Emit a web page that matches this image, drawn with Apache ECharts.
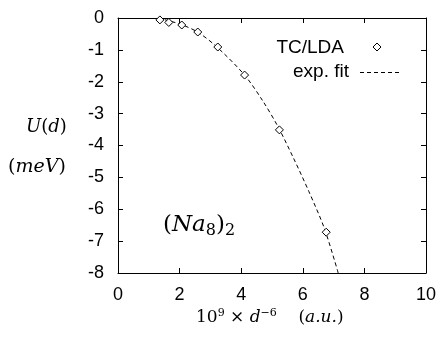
<!DOCTYPE html>
<html><head><meta charset="utf-8">
<script src="https://cdn.jsdelivr.net/npm/echarts@6/dist/echarts.min.js"></script>
<style>html,body{margin:0;padding:0;background:#fff}#c{width:440px;height:337px}</style>
</head><body><div id="c"></div>
<script>
const tcX = [1.36, 1.65, 2.07, 2.59, 3.24, 4.11, 5.24, 6.76];
const tcU = [-0.06, -0.14, -0.22, -0.44, -0.91, -1.79, -3.51, -6.72];
const fitX = [1.3, 1.7, 2.1, 2.6, 3.2, 4.1, 4.7, 5.2, 5.7, 6.2, 6.7, 7.15];
const fitU = [0, -0.1, -0.22, -0.45, -0.9, -1.78, -2.6, -3.42, -4.4, -5.45, -6.6, -8.0];
const xTicks = [0, 2, 4, 6, 8, 10];
const yTicks = [0, -1, -2, -3, -4, -5, -6, -7, -8];

const chart = echarts.init(document.getElementById('c'));
const lab = {fontFamily: 'Liberation Sans', fontSize: 18, color: '#000'};
const axLine = {show: true, onZero: false, lineStyle: {color: '#000', width: 1}};
const tick = {show: true, inside: true, length: 5, lineStyle: {color: '#000'}};
const SERIF = 'DejaVu Serif';
chart.setOption({
  animation: false,
  grid: {left: 118, right: 14, top: 18, bottom: 64},
  xAxis: [
    {type: 'value', min: xTicks[0], max: xTicks[xTicks.length-1], interval: 2,
     axisLine: axLine, axisTick: tick,
     axisLabel: Object.assign({margin: 13}, lab), splitLine: {show: false}},
    {type: 'value', position: 'top', min: xTicks[0], max: xTicks[xTicks.length-1], interval: 2,
     axisLine: axLine, axisTick: tick,
     axisLabel: {show: false}, splitLine: {show: false}}
  ],
  yAxis: [
    {type: 'value', min: yTicks[yTicks.length-1], max: yTicks[0], interval: 1,
     axisLine: axLine, axisTick: tick,
     axisLabel: Object.assign({margin: 14}, lab), splitLine: {show: false}},
    {type: 'value', position: 'right', min: yTicks[yTicks.length-1], max: yTicks[0], interval: 1,
     axisLine: axLine, axisTick: tick,
     axisLabel: {show: false}, splitLine: {show: false}}
  ],
  series: [
    {name: 'exp. fit', type: 'line', showSymbol: false, symbol: 'none', smooth: 0.3,
     data: fitX.map((x, i) => [x, fitU[i]]),
     lineStyle: {color: '#000', width: 1, type: [4, 3]}, itemStyle: {color: '#000'}, z: 2},
    {name: 'TC/LDA', type: 'scatter', symbol: 'diamond', symbolSize: 8,
     data: tcX.map((x, i) => [x, tcU[i]]),
     itemStyle: {color: '#fff', borderColor: '#000', borderWidth: 1, opacity: 1}, z: 3}
  ],
  graphic: [
    // legend
    {type: 'text', right: 96, top: 38, style: {text: 'TC/LDA', fontFamily: 'Liberation Sans', fontSize: 19, fill: '#000'}},
    {type: 'polygon', shape: {points: [[377, 43], [381, 47], [377, 51], [373, 47]]},
     style: {fill: '#fff', stroke: '#000', lineWidth: 1}},
    {type: 'text', right: 91, top: 62, style: {text: 'exp. fit', fontFamily: 'Liberation Sans', fontSize: 19, fill: '#000'}},
    {type: 'line', shape: {x1: 360, y1: 72.5, x2: 402, y2: 72.5},
     style: {stroke: '#000', lineWidth: 1, lineDash: [4, 3]}},
    // axis titles
    {type: 'text', left: 26, top: 118, style: {text: '{i|U}{n|(}{i|d}{n|)}', rich: {
      i: {fontFamily: SERIF, fontStyle: 'italic', fontSize: 18, fill: '#000'},
      n: {fontFamily: SERIF, fontSize: 18, fill: '#000'}}}},
    {type: 'text', left: 8, top: 158, style: {text: '{n|(}{i|meV}{n|)}', rich: {
      i: {fontFamily: SERIF, fontStyle: 'italic', fontSize: 19, fill: '#000'},
      n: {fontFamily: SERIF, fontSize: 19, fill: '#000'}}}},
    {type: 'text', left: 163, top: 214, style: {text: '{n|(}{i|Na}{s|8}{n|)}{s|2}', rich: {
      i: {fontFamily: SERIF, fontStyle: 'italic', fontSize: 23, fill: '#000'},
      n: {fontFamily: SERIF, fontSize: 23, fill: '#000'},
      s: {fontFamily: SERIF, fontSize: 16, fill: '#000', verticalAlign: 'bottom', padding: [10, 0, 0, 0]}}}},
    {type: 'text', left: 196, top: 308, style: {text: '{n|10}{p|9}{n| × }{i|d}{p|−6}{n|    (}{i|a.u.}{n|)}', rich: {
      i: {fontFamily: SERIF, fontStyle: 'italic', fontSize: 17, fill: '#000'},
      n: {fontFamily: SERIF, fontSize: 17, fill: '#000'},
      p: {fontFamily: SERIF, fontSize: 11, fill: '#000', verticalAlign: 'top', padding: [0, 0, 8, 0]}}}}
  ]
});
</script></body></html>
